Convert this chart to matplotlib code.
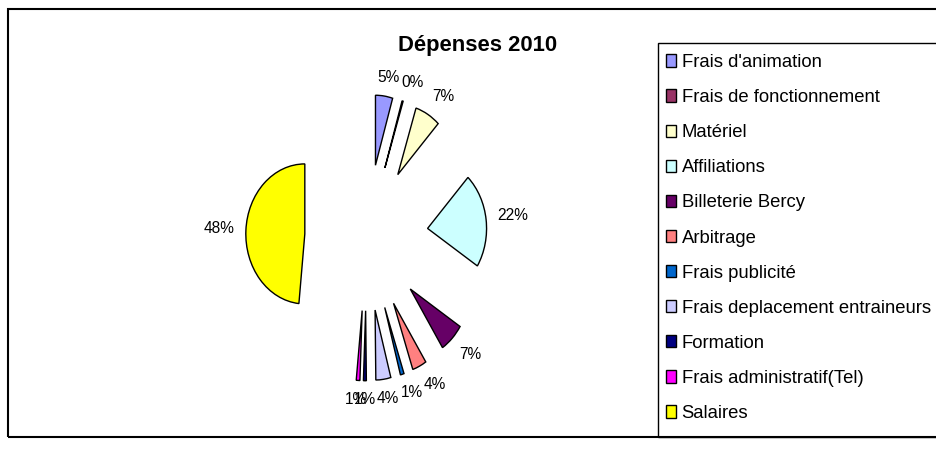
import numpy as np
import matplotlib
matplotlib.use("Agg")
import matplotlib.pyplot as plt
from matplotlib.patches import Rectangle

plt.rcParams["font.family"] = ["Liberation Sans", "DejaVu Sans"]

categories = [
    "Frais d'animation",
    "Frais de fonctionnement",
    "Matériel",
    "Affiliations",
    "Billeterie Bercy",
    "Arbitrage",
    "Frais publicité",
    "Frais deplacement entraineurs",
    "Formation",
    "Frais administratif(Tel)",
    "Salaires",
]
shares = [4.7, 0.3, 7.0, 22.0, 6.8, 3.9, 1.0, 4.1, 0.8, 1.0, 48.4]
colors = [
    "#9999FF", "#993366", "#FFFFCC", "#CCFFFF", "#660066", "#FF8080",
    "#0066CC", "#CCCCFF", "#000080", "#FF00FF", "#FFFF00",
]

W, H = 936, 470
fig = plt.figure(figsize=(W / 100, H / 100), dpi=100)
ax = fig.add_axes([0, 0, 1, 1])

# pie centre / radii in pixels (chart is slightly squashed horizontally)
cx, cy, rx, ry = 366.4, 237.6, 59.0, 70.0
expl = 1.045

wedges, texts, autotexts = ax.pie(
    shares,
    colors=colors,
    explode=[expl] * len(shares),
    startangle=90,
    counterclock=False,
    autopct="%.0f%%",
    pctdistance=1.38,
    wedgeprops=dict(edgecolor="black", linewidth=1.0),
    textprops=dict(fontsize=11.2, color="black"),
)
ax.set_aspect("auto")
ax.set_xlim(-cx / rx, (W - cx) / rx)
ax.set_ylim((cy - H) / ry, cy / ry)
ax.axis("off")

# place percentage labels just outside each slice, Excel style
fig.canvas.draw()
renderer = fig.canvas.get_renderer()
gap = 11.0
for w, t in zip(wedges, autotexts):
    th = np.deg2rad(0.5 * (w.theta1 + w.theta2))
    c, s = np.cos(th), np.sin(th)
    ux, uy = c * rx, s * ry
    n = np.hypot(ux, uy)
    ux, uy = ux / n, uy / n
    tw = t.get_window_extent(renderer).width
    offx = ux * gap + np.clip(2.5 * ux, -1, 1) * tw / 2
    offy = uy * gap + np.clip(2.5 * uy, -1, 1) * 8.0
    t.set_position(((expl + 1) * c + offx / rx, (expl + 1) * s + offy / ry))
    t.set_ha("center")
    t.set_va("center")

def px(x, y):
    return x / W, 1 - y / H

# title
fig.text(*px(477.5, 51), "Dépenses 2010", ha="center", va="baseline",
         fontsize=15.8, fontweight="bold")

# chart frame and legend box
fig.patches.append(Rectangle(px(8, 437), (950 - 8) / W, (437 - 9) / H,
                             transform=fig.transFigure, fill=False,
                             edgecolor="black", linewidth=1.5))
fig.patches.append(Rectangle(px(658, 437), (950 - 658) / W, (437 - 43) / H,
                             transform=fig.transFigure, fill=False,
                             edgecolor="black", linewidth=1.0))

ax.legend(
    wedges, categories,
    loc="upper left",
    bbox_to_anchor=px(666, 54),
    bbox_transform=fig.transFigure,
    frameon=False,
    fontsize=13.3,
    handlelength=0.54,
    handleheight=0.65,
    handletextpad=0.3,
    labelspacing=0.98,
    borderpad=0,
    borderaxespad=0,
)

fig.savefig("out.png", dpi=100)
